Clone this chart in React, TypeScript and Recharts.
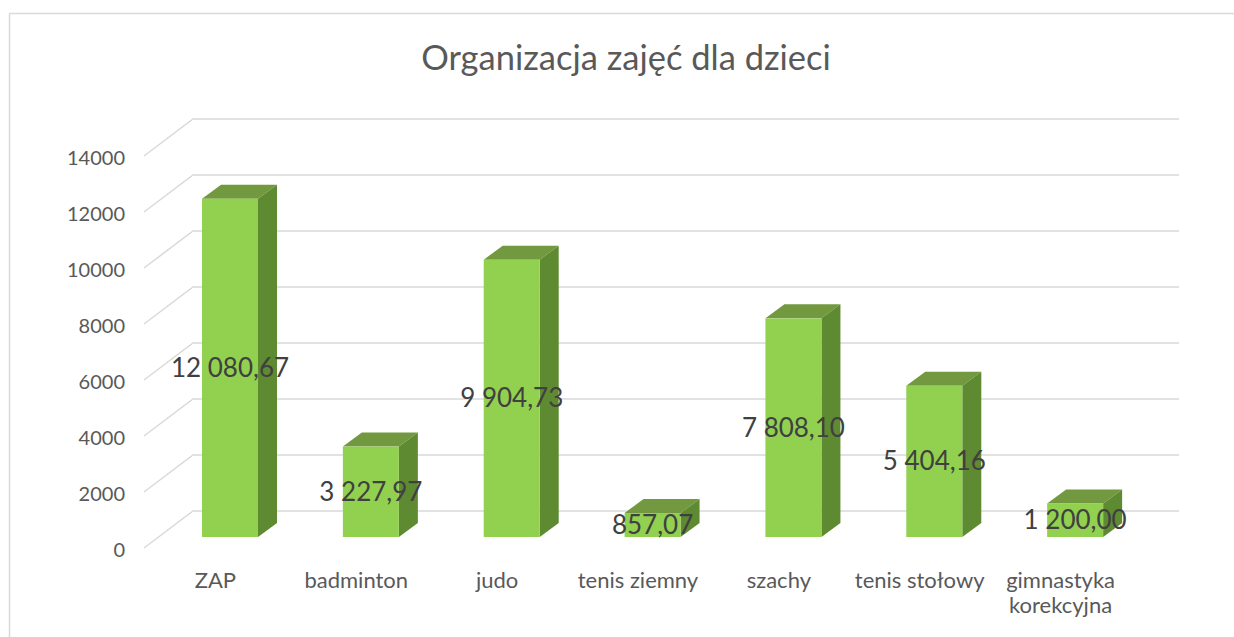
import { BarChart, Bar, XAxis, YAxis, CartesianGrid, LabelList, Customized } from 'recharts';

const categories = ['ZAP', 'badminton', 'judo', 'tenis ziemny', 'szachy', 'tenis stołowy', 'gimnastyka korekcyjna'];
const values = [12080.67, 3227.97, 9904.73, 857.07, 7808.1, 5404.16, 1200.0];
const yTicks = [0, 2000, 4000, 6000, 8000, 10000, 12000, 14000];

const data = categories.map((name, i) => ({ name, value: values[i] }));

const FONT = 'Lato, "Open Sans", sans-serif';
const FRONT = '#92D050';
const SIDE = '#5E8A31';
const TOP = '#72993F';
const GRID = '#d9d9d9';

// depth of the 3D boxes
const DX = 19;
const DY = 14;

const fmt = (v: number) => {
  const [i, d] = v.toFixed(2).split('.');
  return i.replace(/\B(?=(\d{3})+(?!\d))/g, ' ') + ',' + d;
};

const Box = (props: any) => {
  const { x, y, width, height } = props;
  if (height <= 0) return null;
  return (
    <g>
      <polygon
        points={`${x},${y} ${x + DX},${y - DY} ${x + width + DX},${y - DY} ${x + width},${y}`}
        fill={TOP}
      />
      <polygon
        points={`${x + width},${y} ${x + width + DX},${y - DY} ${x + width + DX},${y + height - DY} ${x + width},${y + height}`}
        fill={SIDE}
      />
      <rect x={x} y={y} width={width} height={height} fill={FRONT} />
    </g>
  );
};

const gridLine = (p: any) => (
  <path
    key={`g-${p.index}`}
    d={`M${p.x1 - 16},${p.y1 + 11} L${p.x1 + 33},${p.y1 - 26} L${p.x2 + 33},${p.y1 - 26}`}
    fill="none"
    stroke={GRID}
    strokeWidth={1.5}
  />
);

const YTick = ({ x, y, payload }: any) => (
  <text x={x - 27} y={y + 20} textAnchor="end" fontSize={20} fill="#595959" fontFamily={FONT}>
    {payload.value}
  </text>
);

const XTick = ({ x, y, payload }: any) => {
  const label: string = payload.value;
  const lines = label.length > 14 ? label.split(' ') : [label];
  return (
    <text x={x - 15} y={y + 43} textAnchor="middle" fontSize={22} fill="#595959" fontFamily={FONT}>
      {lines.map((l, i) => (
        <tspan key={i} x={x - 15} dy={i === 0 ? 0 : 25}>
          {l}
        </tspan>
      ))}
    </text>
  );
};

const ValueLabel = ({ x, y, width, height, value }: any) => (
  <text
    x={x + width / 2}
    y={y + height / 2}
    dy={9}
    textAnchor="middle"
    fontSize={26}
    fill="#404040"
    fontFamily={FONT}
  >
    {fmt(value)}
  </text>
);

const Frame = () => (
  <g>
    <line x1={9.5} y1={13.5} x2={1234} y2={13.5} stroke={GRID} strokeWidth={1.5} />
    <line x1={9.5} y1={13.5} x2={9.5} y2={637} stroke={GRID} strokeWidth={1.5} />
    <text x={626} y={70} textAnchor="middle" fontSize={34.5} fill="#595959" fontFamily={FONT}>
      Organizacja zajęć dla dzieci
    </text>
  </g>
);

export default function App() {
  return (
    <div style={{ position: 'absolute', left: 0, top: 0, width: 1234, height: 637, background: '#fff' }}>
      <BarChart width={1234} height={637} data={data} margin={{ top: 145, right: 88, bottom: 70, left: 100 }}>
        <Customized component={Frame} />
        <CartesianGrid vertical={false} horizontal={gridLine} />
        <XAxis dataKey="name" axisLine={false} tickLine={false} height={30} interval={0} tick={<XTick />} />
        <YAxis
          width={60}
          domain={[0, 14000]}
          ticks={yTicks}
          axisLine={false}
          tickLine={false}
          tick={<YTick />}
        />
        <Bar dataKey="value" barSize={56} shape={<Box />} isAnimationActive={false}>
          <LabelList dataKey="value" content={<ValueLabel />} />
        </Bar>
      </BarChart>
    </div>
  );
}
